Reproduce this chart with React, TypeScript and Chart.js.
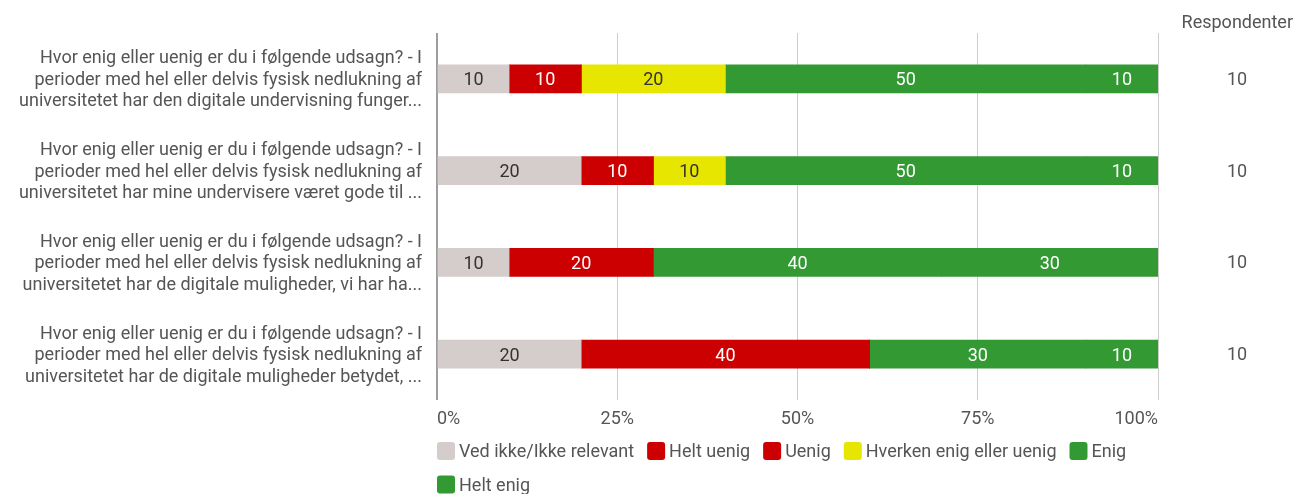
import React, { useEffect, useRef } from "react";
import { Chart, registerables } from "chart.js";

Chart.register(...registerables);

const categories: string[][] = [
  [
    "Hvor enig eller uenig er du i følgende udsagn? - I",
    "perioder med hel eller delvis fysisk nedlukning af",
    "universitetet har den digitale undervisning funger...",
  ],
  [
    "Hvor enig eller uenig er du i følgende udsagn? - I",
    "perioder med hel eller delvis fysisk nedlukning af",
    "universitetet har mine undervisere været gode til ...",
  ],
  [
    "Hvor enig eller uenig er du i følgende udsagn? - I",
    "perioder med hel eller delvis fysisk nedlukning af",
    "universitetet har de digitale muligheder, vi har ha...",
  ],
  [
    "Hvor enig eller uenig er du i følgende udsagn? - I",
    "perioder med hel eller delvis fysisk nedlukning af",
    "universitetet har de digitale muligheder betydet, ...",
  ],
];

const seriesNames = [
  "Ved ikke/Ikke relevant",
  "Helt uenig",
  "Uenig",
  "Hverken enig eller uenig",
  "Enig",
  "Helt enig",
];

const vedIkke = [10, 20, 10, 20];
const heltUenig = [10, 10, 20, 40];
const uenig = [0, 0, 0, 0];
const hverken = [20, 10, 0, 0];
const enig = [50, 50, 40, 30];
const heltEnig = [10, 10, 30, 10];

const respondenter = [10, 10, 10, 10];
const respondenterTitle = "Respondenter";
const xTickLabels = ["0%", "25%", "50%", "75%", "100%"];

const seriesColors = ["#d5cdcc", "#cc0000", "#cc0000", "#e6e600", "#339933", "#339933"];
const valueTextColors = ["#333333", "#ffffff", "#ffffff", "#333333", "#ffffff", "#ffffff"];

const FONT = "Roboto";
const FS = 18;
const TEXT = "#555555";

const valueLabelsPlugin = {
  id: "valueLabels",
  afterDatasetsDraw(chart: any) {
    const ctx = chart.ctx;
    ctx.save();
    ctx.font = `${FS}px ${FONT}`;
    ctx.textAlign = "center";
    ctx.textBaseline = "middle";
    chart.data.datasets.forEach((ds: any, di: number) => {
      const meta = chart.getDatasetMeta(di);
      if (meta.hidden) return;
      meta.data.forEach((el: any, i: number) => {
        const v = ds.data[i];
        if (!v) return;
        const p = el.getProps(["x", "y", "base"], true);
        ctx.fillStyle = valueTextColors[di];
        ctx.fillText(String(v), (p.x + p.base) / 2, p.y + 2);
      });
    });
    ctx.restore();
  },
};

const customLegendPlugin = {
  id: "customLegend",
  afterDraw(chart: any) {
    const ctx = chart.ctx;
    const area = chart.chartArea;
    const xs = chart.scales.x;
    const box = 18;
    const gap = 4;
    const itemGap = 13;
    const rowH = 33.5;
    ctx.save();
    ctx.font = `${FS}px ${FONT}`;
    ctx.textBaseline = "middle";
    ctx.textAlign = "left";
    let x = area.left;
    let y = xs.bottom + 25;
    chart.data.datasets.forEach((ds: any) => {
      const w = box + gap + ctx.measureText(ds.label).width;
      if (x > area.left && x + w > area.right) {
        x = area.left;
        y += rowH;
      }
      ctx.fillStyle = ds.backgroundColor;
      ctx.beginPath();
      if (ctx.roundRect) ctx.roundRect(x, y - box / 2, box, box, 3);
      else ctx.rect(x, y - box / 2, box, box);
      ctx.fill();
      ctx.fillStyle = TEXT;
      ctx.fillText(ds.label, x + box + gap, y + 1.5);
      x += w + itemGap;
    });
    ctx.restore();
  },
};

export default function App() {
  const canvasRef = useRef<HTMLCanvasElement | null>(null);

  useEffect(() => {
    if (!canvasRef.current) return;
    const seriesData = [vedIkke, heltUenig, uenig, hverken, enig, heltEnig];
    const chart = new Chart(canvasRef.current, {
      type: "bar",
      data: {
        labels: categories as any,
        datasets: seriesNames.map((name, i) => ({
          label: name,
          data: seriesData[i],
          backgroundColor: seriesColors[i],
          borderWidth: 0,
          barThickness: 28,
        })),
      },
      plugins: [valueLabelsPlugin, customLegendPlugin],
      options: {
        indexAxis: "y",
        animation: false,
        responsive: true,
        maintainAspectRatio: false,
        layout: { padding: { left: 0, right: 0, top: 0, bottom: 68 } },
        plugins: {
          legend: { display: false },
          tooltip: { enabled: false },
          title: {
            display: true,
            text: respondenterTitle,
            align: "end",
            color: TEXT,
            font: { family: FONT, size: FS, weight: "normal", lineHeight: 1.2 },
            padding: { top: 12.5, bottom: -1.1 },
          },
        },
        scales: {
          x: {
            type: "linear",
            stacked: true,
            min: 0,
            max: 100,
            border: { display: false },
            grid: {
              drawTicks: false,
              color: (c: any) => (c.index === 0 ? "#9e9e9e" : "#cccccc"),
              lineWidth: (c: any) => (c.index === 0 ? 2 : 1),
            },
            ticks: {
              stepSize: 25,
              align: "inner",
              padding: 9,
              color: TEXT,
              font: { family: FONT, size: FS, lineHeight: 1.2 },
              callback: (_v: any, i: number) => xTickLabels[i],
            },
            afterFit: (s: any) => {
              s.height = 26;
              s.paddingLeft = 0;
              s.paddingRight = 0;
            },
          },
          y: {
            type: "category",
            stacked: true,
            offset: true,
            border: { display: false },
            grid: { display: false, drawTicks: false },
            ticks: {
              autoSkip: false,
              padding: 15,
              labelOffset: 1.5,
              color: TEXT,
              font: { family: FONT, size: FS, lineHeight: 1.194 },
            },
            afterFit: (s: any) => {
              s.width = 437;
              s.paddingTop = 0;
              s.paddingBottom = 0;
            },
          },
          y2: {
            type: "category",
            position: "right",
            labels: respondenter.map(String),
            offset: true,
            border: { display: false },
            grid: { display: false, drawTicks: false },
            ticks: {
              autoSkip: false,
              padding: 69,
              labelOffset: 1.5,
              crossAlign: "near",
              color: TEXT,
              font: { family: FONT, size: FS, lineHeight: 1.2 },
            },
            afterFit: (s: any) => {
              s.width = 135;
              s.paddingTop = 0;
              s.paddingBottom = 0;
            },
          },
        },
      } as any,
    });
    return () => chart.destroy();
  }, []);

  return (
    <div style={{ position: "fixed", left: 0, top: 0, width: "100%", height: "100%", background: "#fff" }}>
      <canvas ref={canvasRef} />
    </div>
  );
}
